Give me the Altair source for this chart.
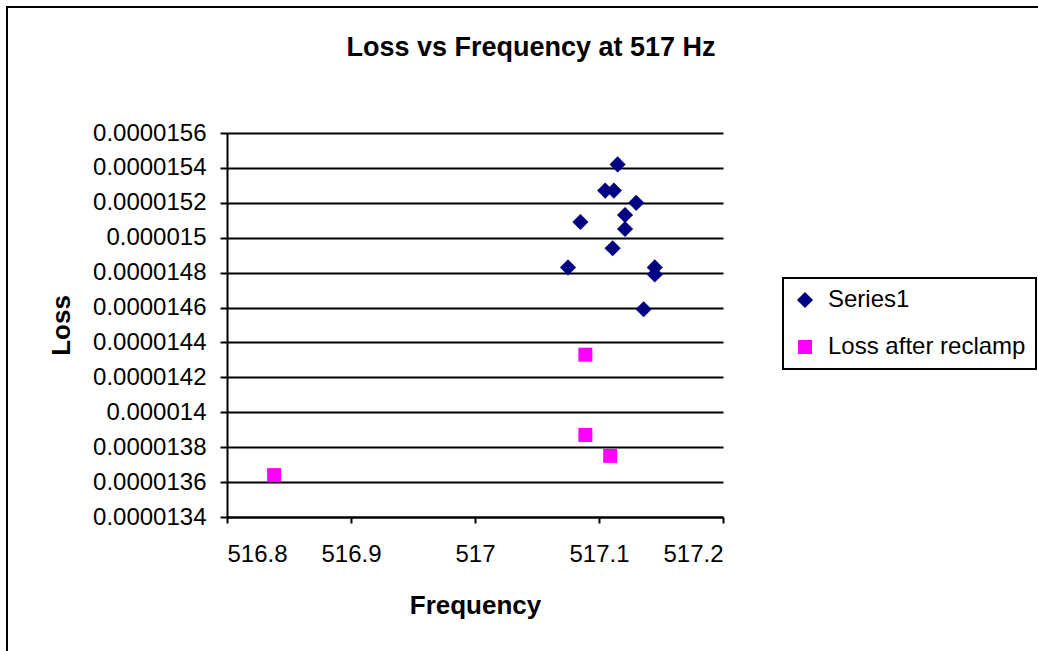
import altair as alt
import pandas as pd

# Series values
series1_freq = [517.115, 517.105, 517.112, 517.130, 517.121, 517.085,
                517.121, 517.111, 517.075, 517.145, 517.145, 517.136]
series1_loss = [1.542e-5, 1.527e-5, 1.527e-5, 1.520e-5, 1.513e-5, 1.509e-5,
                1.505e-5, 1.494e-5, 1.483e-5, 1.483e-5, 1.479e-5, 1.459e-5]
reclamp_freq = [517.089, 517.089, 517.109, 516.838]
reclamp_loss = [1.433e-5, 1.387e-5, 1.375e-5, 1.364e-5]

series_names = ["Series1", "Loss after reclamp"]
x_ticks = [516.8, 516.9, 517.0, 517.1, 517.2]
y_ticks = [1.34e-5, 1.36e-5, 1.38e-5, 1.40e-5, 1.42e-5, 1.44e-5,
           1.46e-5, 1.48e-5, 1.50e-5, 1.52e-5, 1.54e-5, 1.56e-5]

rows = []
for f, l in zip(series1_freq, series1_loss):
    rows.append({"Frequency": f, "Loss": l, "series": series_names[0]})
for f, l in zip(reclamp_freq, reclamp_loss):
    rows.append({"Frequency": f, "Loss": l, "series": series_names[1]})
df = pd.DataFrame(rows)

FONT = "Liberation Sans"

frame = alt.Chart(alt.Data(values=[{"a": 1}])).mark_rect(
    filled=False, stroke="black", strokeWidth=2, clip=False
).encode(
    x=alt.value(-220), x2=alt.value(900),
    y=alt.value(-126), y2=alt.value(640),
)

points = alt.Chart(df).mark_point(filled=True, opacity=1, strokeWidth=0).encode(
    x=alt.X("Frequency:Q",
            scale=alt.Scale(domain=[516.8, 517.2], zero=False, nice=False),
            axis=alt.Axis(values=x_ticks, format=".1~f", grid=False,
                          title="Frequency", titleX=248, titleY=88,
                          titleBaseline="middle", titleFontSize=26,
                          tickSize=6, labelPadding=19)),
    y=alt.Y("Loss:Q",
            scale=alt.Scale(domain=[1.34e-5, 1.56e-5], zero=False, nice=False),
            axis=alt.Axis(values=y_ticks, format=".7~f", grid=True,
                          title="Loss", titleX=-166, titleY=192,
                          titleBaseline="middle", titleFontSize=26,
                          tickSize=7, labelPadding=14)),
    color=alt.Color("series:N",
                    scale=alt.Scale(domain=series_names, range=["#000080", "#FF00FF"]),
                    legend=alt.Legend(title=None, orient="none", legendX=556, legendY=145)),
    shape=alt.Shape("series:N",
                    scale=alt.Scale(domain=series_names, range=["diamond", "square"])),
    size=alt.Size("series:N",
                  scale=alt.Scale(domain=series_names, range=[260, 196]),
                  legend=None),
)

chart = alt.layer(frame, points).properties(
    width=496, height=384,
    background="white",
    autosize=alt.AutoSizeParams(type="none"),
    padding={"left": 227, "top": 133, "right": 315, "bottom": 134},
    title=alt.TitleParams("Loss vs Frequency at 517 Hz", fontSize=27, font=FONT,
                          fontWeight="bold", color="black", anchor="middle",
                          frame="group", dx=56, offset=-77, baseline="alphabetic"),
).configure_view(stroke="transparent").configure_axis(
    labelFont=FONT, titleFont=FONT, labelFontSize=24, labelColor="black",
    titleColor="black", titleFontWeight="bold",
    domainColor="black", domainWidth=2, tickColor="black", tickWidth=2,
    gridColor="black", gridWidth=1.8, gridOpacity=1,
).configure_legend(
    labelFont=FONT, labelFontSize=24, labelColor="black", labelLimit=400,
    strokeColor="black", strokeWidth=2, fillColor="white",
    padding=10, symbolSize=220, symbolOffset=0, labelOffset=11, rowPadding=23,
    symbolStrokeWidth=0,
)

chart.save("out.html", embed_options={"renderer": "svg", "actions": False})
